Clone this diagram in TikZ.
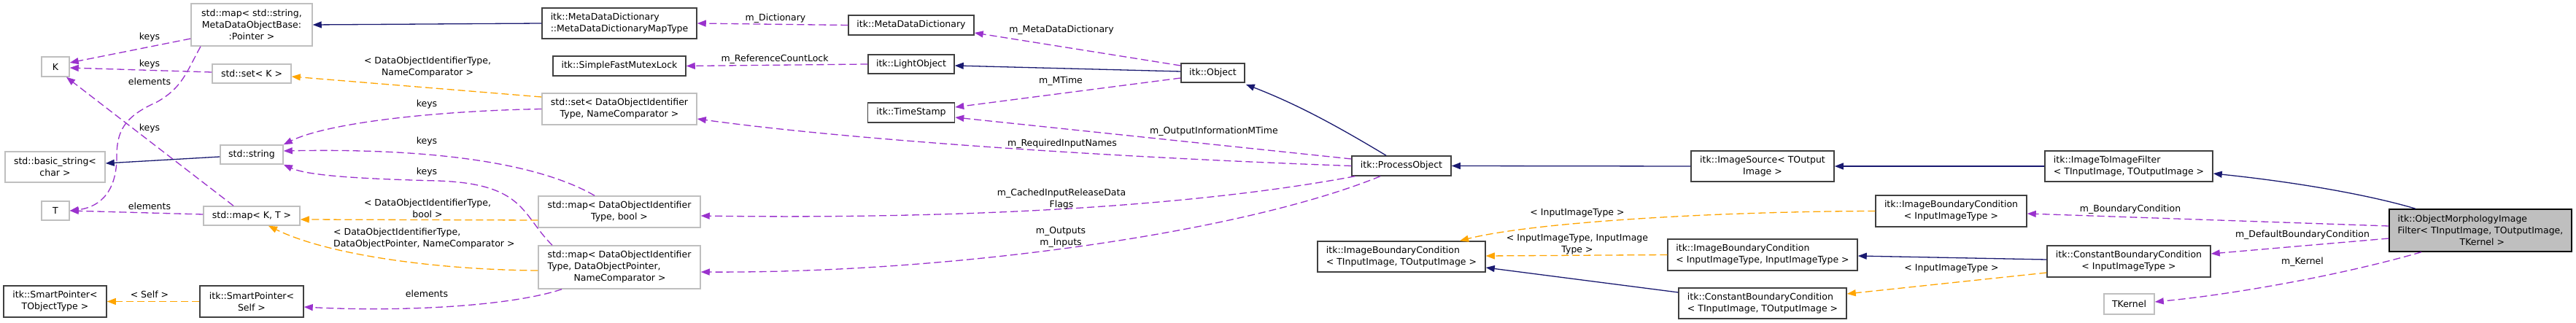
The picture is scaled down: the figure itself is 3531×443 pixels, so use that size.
\documentclass[tikz,border=0pt]{standalone}
\usepackage{fontspec}
\setmainfont{DejaVu Sans}
\usetikzlibrary{arrows.meta,calc}
\definecolor{dxNavy}{RGB}{25,25,112}
\definecolor{dxOrchid}{RGB}{154,50,205}
\definecolor{dxOrange}{RGB}{255,165,0}
\definecolor{dxGrey}{RGB}{191,191,191}
\definecolor{dxEdge}{RGB}{64,64,64}

\begin{document}
\begin{tikzpicture}[x=1pt, y=-1pt,
  cls/.style={draw=dxEdge, line width=1.5pt, fill=white, inner sep=0pt,
              font=\fontsize{12.5}{16}\selectfont, align=center},
  ext/.style={cls, draw=dxGrey},
  lbl/.style={inner sep=0pt, font=\fontsize{12.5}{16}\selectfont, align=center},
  usearr/.style={-{Triangle[length=12pt,width=9pt]}, line width=1.3pt, dxOrchid,
                 dash pattern=on 10pt off 5pt},
  tplarr/.style={usearr, dxOrange},
  inharr/.style={-{Triangle[length=12pt,width=9pt]}, line width=1.3pt, dxNavy}]
  \fill[white] (0,0) rectangle (3531,443);
  \useasboundingbox (0,0) rectangle (3531,443);

  \node[ext, minimum width=166pt, minimum height=58pt] (mapSS) at (345,34) {std::map< std::string,\\MetaDataObjectBase:\\:Pointer >};
  \node[ext, minimum width=38pt, minimum height=27pt] (K) at (76,91.5) {K};
  \node[ext, minimum width=108pt, minimum height=26pt] (setK) at (345,101) {std::set< K >};
  \node[ext, minimum width=137pt, minimum height=42pt] (basicstr) at (75.5,229) {std::basic\_string<\\char >};
  \node[ext, minimum width=86pt, minimum height=26pt] (string) at (345,212) {std::string};
  \node[ext, minimum width=38pt, minimum height=26pt] (T) at (76,289) {T};
  \node[ext, minimum width=132pt, minimum height=26pt] (mapKT) at (345,296) {std::map< K, T >};
  \node[cls, minimum width=141pt, minimum height=43pt] (spT) at (75.5,413.5) {itk::SmartPointer<\\TObjectType >};
  \node[cls, minimum width=142pt, minimum height=43pt] (spSelf) at (345,413.5) {itk::SmartPointer<\\Self >};
  \node[cls, align=left, minimum width=212pt, minimum height=42pt] (mapType) at (849,32) {itk::MetaDataDictionary\\::MetaDataDictionaryMapType};
  \node[cls, minimum width=182pt, minimum height=27pt] (mutex) at (849,90.5) {itk::SimpleFastMutexLock};
  \node[ext, minimum width=212pt, minimum height=43pt] (setDOI) at (849,149.5) {std::set< DataObjectIdentifier\\Type, NameComparator >};
  \node[ext, minimum width=222pt, minimum height=43pt] (mapDOIbool) at (849,290.5) {std::map< DataObjectIdentifier\\Type, bool >};
  \node[ext, align=left, minimum width=222pt, minimum height=59pt] (mapDOIptr) at (849,366.5) {std::map< DataObjectIdentifier\\Type, DataObjectPointer,\\\hspace*{36pt}NameComparator >};
  \node[cls, minimum width=172pt, minimum height=27pt] (mdd) at (1249,34.5) {itk::MetaDataDictionary};
  \node[cls, minimum width=118pt, minimum height=26pt] (light) at (1249,88) {itk::LightObject};
  \node[cls, minimum width=119pt, minimum height=27pt] (stamp) at (1249,154.5) {itk::TimeStamp};
  \node[cls, minimum width=87pt, minimum height=26pt] (object) at (1662.5,100) {itk::Object};
  \node[cls, minimum width=136pt, minimum height=27pt] (process) at (1921,227.5) {itk::ProcessObject};
  \node[cls, align=left, minimum width=230pt, minimum height=42pt] (ibcTT) at (1921,352) {itk::ImageBoundaryCondition\\< TInputImage, TOutputImage >};
  \node[cls, minimum width=196pt, minimum height=42pt] (source) at (2416,228) {itk::ImageSource< TOutput\\Image >};
  \node[cls, align=left, minimum width=260pt, minimum height=43pt] (ibcII) at (2416,349.5) {itk::ImageBoundaryCondition\\< InputImageType, InputImageType >};
  \node[cls, align=left, minimum width=230pt, minimum height=42pt] (cbcTT) at (2416,416) {itk::ConstantBoundaryCondition\\< TInputImage, TOutputImage >};
  \node[cls, minimum width=207pt, minimum height=43pt] (ibcIn) at (2674.5,289.5) {itk::ImageBoundaryCondition\\< InputImageType >};
  \node[cls, align=left, minimum width=230pt, minimum height=42pt] (filter) at (2918,228) {itk::ImageToImageFilter\\< TInputImage, TOutputImage >};
  \node[cls, minimum width=224pt, minimum height=43pt] (cbcI) at (2918,358.5) {itk::ConstantBoundaryCondition\\< InputImageType >};
  \node[ext, minimum width=69pt, minimum height=28pt] (tkernel) at (2918.5,417) {TKernel};
  \node[cls, draw=black, fill=dxGrey, align=left, minimum width=250pt, minimum height=58pt] (morph) at (3400,316) {itk::ObjectMorphologyImage\\Filter< TInputImage, TOutputImage,\\\hspace*{85pt}TKernel >};

  \draw[usearr] ($(mapSS.west)+(0,19)$) -- ($(K.east)+(0,-5.5)$);
  \draw[usearr] ($(setK.west)+(0,-2)$) -- ($(K.east)+(0,1.5)$);
  \draw[usearr] ($(mapSS.south)+(-70,0)$) .. controls (255,100) and (250,120) .. (215,140) .. controls (170,160) and (160,180) .. (160,215) .. controls (160,270) and (130,285) .. (T.east);
  \draw[usearr] ($(mapKT.north)+(-25,0)$) -- ($(K.south)+(15,0)$);
  \draw[usearr] ($(mapKT.west)+(0,-2)$) -- (T.east);
  \draw[usearr] (setDOI.west) .. controls (600,152) and (450,168) .. (string.north east);
  \draw[usearr] ($(mapDOIbool.north)+(-34,0)$) .. controls (740,225) and (600,203) .. ($(string.east)+(0,-5)$);
  \draw[usearr] ($(mapDOIptr.north)+(-92,0)$) .. controls (715,295) and (720,252) .. (600,248) .. controls (480,245) and (420,240) .. (string.south east);
  \draw[usearr] ($(mapDOIptr.south)+(-79,0)$) .. controls (700,420) and (550,428) .. ($(spSelf.east)+(0,7.5)$);
  \draw[usearr] (mdd.west) -- (mapType.east);
  \draw[usearr] (light.west) -- (mutex.east);
  \draw[usearr] ($(object.west)+(0,-10)$) -- ($(mdd.east)+(0,10.5)$);
  \draw[usearr] ($(object.west)+(0,7)$) -- ($(stamp.east)+(0,-7.5)$);
  \draw[usearr] ($(process.west)+(0,-9.5)$) -- ($(stamp.east)+(0,6.5)$);
  \draw[usearr] (process.west) .. controls (1500,215) and (1150,190) .. ($(setDOI.east)+(0,13.5)$);
  \draw[usearr] ($(process.south west)+(5,0)$) .. controls (1600,290) and (1250,300) .. ($(mapDOIbool.east)+(0,5.5)$);
  \draw[usearr] ($(process.south)+(-29,0)$) .. controls (1700,320) and (1300,375) .. ($(mapDOIptr.east)+(0,6.5)$);
  \draw[usearr] ($(morph.west)+(0,-6)$) -- ($(ibcIn.east)+(0,3.5)$);
  \draw[usearr] ($(morph.west)+(0,11)$) -- ($(cbcI.east)+(0,-10.5)$);
  \draw[usearr] ($(morph.south)+(-81,0)$) .. controls (3200,380) and (3050,405) .. ($(tkernel.east)+(0,-3)$);

  \draw[tplarr] ($(setDOI.west)+(0,-16.5)$) -- ($(setK.east)+(0,4)$);
  \draw[tplarr] ($(mapDOIbool.west)+(0,11.5)$) -- ($(mapKT.east)+(0,5)$);
  \draw[tplarr] ($(mapDOIptr.west)+(0,4.5)$) .. controls (600,370) and (450,350) .. ($(mapKT.south)+(23,0)$);
  \draw[tplarr] (spSelf.west) -- (spT.east);
  \draw[tplarr] (ibcIn.west) .. controls (2350,290) and (2100,305) .. ($(ibcTT.north)+(80,0)$);
  \draw[tplarr] (ibcII.west) -- ($(ibcTT.east)+(0,-1)$);
  \draw[tplarr] ($(cbcI.west)+(0,15.5)$) -- ($(cbcTT.east)+(0,-13)$);

  \draw[inharr] (mapType.west) -- (mapSS.east);
  \draw[inharr] ($(string.west)+(0,3)$) -- ($(basicstr.east)+(0,-5)$);
  \draw[inharr] ($(object.west)+(0,-2)$) -- ($(light.east)+(0,2)$);
  \draw[inharr] ($(process.north)+(-21,0)$) .. controls (1820,165) and (1770,140) .. ($(object.south east)+(1,2)$);
  \draw[inharr] (source.west) -- (process.east);
  \draw[inharr] (filter.west) -- (source.east);
  \draw[inharr] ($(morph.north)+(-89,0)$) .. controls (3250,268) and (3150,250) .. ($(filter.east)+(0,10)$);
  \draw[inharr] ($(cbcTT.west)+(0,-15)$) -- ($(ibcTT.east)+(0,15)$);
  \draw[inharr] ($(cbcI.west)+(0,-2.5)$) -- ($(ibcII.east)+(0,1.5)$);

  \node[lbl] (lkeys1) at (205,51) {keys};
  \node[lbl] (lkeys2) at (205,88) {keys};
  \node[lbl] (lelem1) at (205,112) {elements};
  \node[lbl] (lkeys3) at (205,176) {keys};
  \node[lbl] (lelem2) at (205,283) {elements};
  \node[lbl] (lself) at (205,404) {< Self >};
  \node[lbl] (lsetnc) at (586,92) {< DataObjectIdentifierType,\\NameComparator >};
  \node[lbl] (lkeys4) at (585,143) {keys};
  \node[lbl] (lkeys5) at (585,194) {keys};
  \node[lbl] (lkeys6) at (585,236) {keys};
  \node[lbl] (lmapbool) at (586,286) {< DataObjectIdentifierType,\\bool >};
  \node[lbl, align=left, anchor=west] (lmapptr) at (457,327) {< DataObjectIdentifierType,\\DataObjectPointer, NameComparator >};
  \node[lbl] (lelem3) at (585,403) {elements};
  \node[lbl] (ldict) at (1063,25) {m\_Dictionary};
  \node[lbl] (llock) at (1062,81) {m\_ReferenceCountLock};
  \node[lbl] (lmdd) at (1455,41) {m\_MetaDataDictionary};
  \node[lbl] (lmtime) at (1454,111) {m\_MTime};
  \node[lbl] (loutinfo) at (1664,180) {m\_OutputInformationMTime};
  \node[lbl] (lreq) at (1456,197) {m\_RequiredInputNames};
  \node[lbl] (lcached) at (1455,273) {m\_CachedInputReleaseData\\Flags};
  \node[lbl] (lio) at (1454,325) {m\_Outputs\\m\_Inputs};
  \node[lbl] (lin1) at (2162,292) {< InputImageType >};
  \node[lbl] (lin2) at (2162,335) {< InputImageType, InputImage\\Type >};
  \node[lbl] (lin3) at (2675,368) {< InputImageType >};
  \node[lbl] (lbc) at (2920,287) {m\_BoundaryCondition};
  \node[lbl] (ldbc) at (3156,322) {m\_DefaultBoundaryCondition};
  \node[lbl] (lkern) at (3156,359) {m\_Kernel};
\end{tikzpicture}
\end{document}
